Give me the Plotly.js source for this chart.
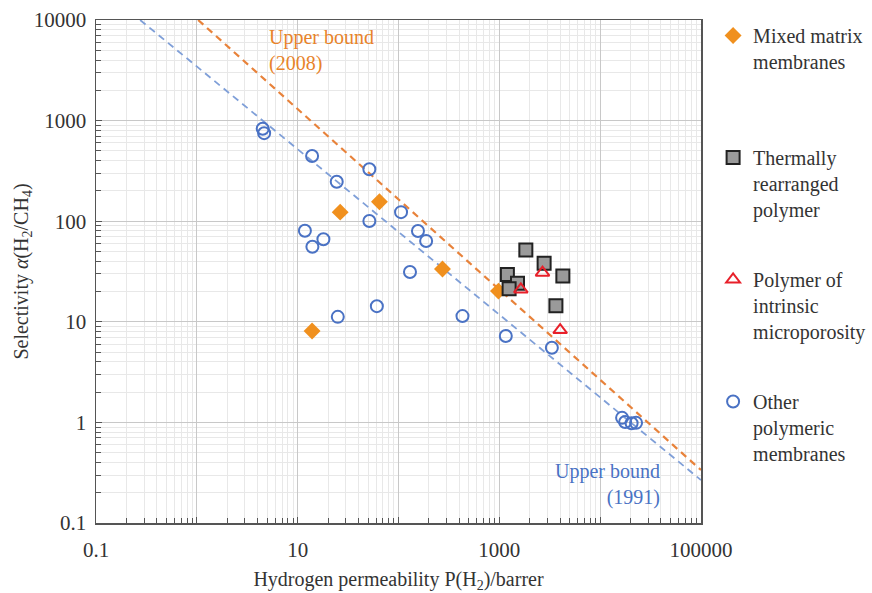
<!DOCTYPE html>
<html>
<head>
<meta charset="utf-8">
<script src="https://cdn.plot.ly/plotly-3.0.1.min.js"></script>
<style>html,body{margin:0;padding:0;background:#fff;}</style>
</head>
<body>
<div id="chart" style="width:872px;height:593px;"></div>
<script>
// Data
const mmmX = [26.4, 64.7, 273, 980, 13.9];
const mmmY = [123, 156, 33.5, 20.2, 8.1];

const trX = [1832, 2781, 1202, 4266, 1514, 1250, 3640];
const trY = [51.8, 38.1, 29.6, 28.5, 24.2, 21.3, 14.4];

const pimX = [2680, 1634, 4010];
const pimY = [30.8, 21.0, 8.28];

const otherX = [4.5, 4.65, 13.9, 24.4, 51.4, 106, 51.4, 11.8, 14.0, 18.0, 156, 188, 130, 25, 61, 431, 1159, 3319, 16500, 17700, 20500, 22700];
const otherY = [830, 750, 445, 247, 328, 123, 100.5, 80.5, 55.8, 66.1, 80, 63.5, 31.3, 11.2, 14.3, 11.4, 7.23, 5.53, 1.11, 1.01, 0.98, 0.99];

const bound1991X = [0.274, 100000];
const bound1991Y = [10000, 0.267];
const bound2008X = [1.03, 100000];
const bound2008Y = [10000, 0.336];

const xTickVals = [0.1, 1, 10, 100, 1000, 10000, 100000];
const xTickText = ['0.1', ' ', '10', ' ', '1000', ' ', '100000'];
const yTickVals = [0.1, 1, 10, 100, 1000, 10000];
const yTickText = ['0.1', '1', '10', '100', '1000', '10000'];

const FONT = "'Liberation Serif', serif";

const traces = [
  {x: bound1991X, y: bound1991Y, mode: 'lines', showlegend: false, hoverinfo: 'skip',
   line: {color: '#7f9fd8', width: 1.8, dash: '7px,5px'}},
  {x: bound2008X, y: bound2008Y, mode: 'lines', showlegend: false, hoverinfo: 'skip',
   line: {color: '#e8823a', width: 2.2, dash: '7px,5px'}},
  {x: otherX, y: otherY, mode: 'markers', name: 'Other<br>polymeric<br>membranes',
   legendrank: 4, legendgroup: 'd',
   marker: {symbol: 'circle-open', size: 12, color: '#4a72c4', line: {width: 2, color: '#4a72c4'}}},
  {x: mmmX, y: mmmY, mode: 'markers', name: 'Mixed matrix<br>membranes<br>.',
   legendrank: 1, legendgroup: 'a',
   marker: {symbol: 'diamond', size: 13, color: '#f0901e'}},
  {x: trX, y: trY, mode: 'markers', name: 'Thermally<br>rearranged<br>polymer',
   legendrank: 2, legendgroup: 'b',
   marker: {symbol: 'square', size: 13, color: '#9a9a9a', line: {width: 2, color: '#222'}}},
  {x: pimX, y: pimY, mode: 'markers', name: 'Polymer of<br>intrinsic<br>microporosity',
   legendrank: 3, legendgroup: 'c',
   marker: {symbol: 'triangle-up-open', size: 12, color: '#e8202a', line: {width: 2, color: '#e8202a'}}}
];

const layout = {
  width: 872, height: 593,
  margin: {l: 96, r: 171, t: 20, b: 70, autoexpand: false},
  paper_bgcolor: '#fff', plot_bgcolor: '#fff',
  font: {family: FONT, size: 20, color: '#333'},
  xaxis: {
    type: 'log', range: [-1, 5], tickmode: 'array', tickvals: xTickVals, ticktext: xTickText,
    showline: true, linecolor: '#555', linewidth: 1.5, mirror: true,
    ticks: 'inside', ticklen: 6, tickcolor: '#555',
    showgrid: true, gridcolor: '#c8c8c8', gridwidth: 1,
    minor: {dtick: 'D1', showgrid: true, gridcolor: '#e8e8e8', ticks: 'inside', ticklen: 5, tickcolor: '#555'},
    tickfont: {family: FONT, size: 21, color: '#333'},
    ticklabelstandoff: 7, automargin: false,
    zeroline: false,
    title: {text: 'Hydrogen permeability P(H<sub>2</sub>)/barrer', font: {family: FONT, size: 20, color: '#333'}, standoff: 20}
  },
  yaxis: {
    type: 'log', range: [-1, 4], tickmode: 'array', tickvals: yTickVals, ticktext: yTickText,
    showline: true, linecolor: '#555', linewidth: 1.5, mirror: true,
    ticks: 'inside', ticklen: 6, tickcolor: '#555',
    showgrid: true, gridcolor: '#c8c8c8', gridwidth: 1,
    minor: {dtick: 'D1', showgrid: true, gridcolor: '#e8e8e8', ticks: 'inside', ticklen: 5, tickcolor: '#555'},
    tickfont: {family: FONT, size: 21, color: '#333'},
    ticklabelstandoff: 4, automargin: false,
    zeroline: false,
    title: {text: 'Selectivity <i>α</i>(H<sub>2</sub>/CH<sub>4</sub>)', font: {family: FONT, size: 20, color: '#333'}, standoff: 0}
  },
  legend: {
    x: 1.02, xanchor: 'left', y: 1.008, yanchor: 'top',
    bgcolor: 'rgba(0,0,0,0)', borderwidth: 0,
    font: {family: FONT, size: 20, color: '#333'},
    valign: 'top', tracegroupgap: 41, itemwidth: 30, maxheight: 1
  },
  annotations: [
    {xref: 'paper', yref: 'paper', x: 0.283, y: 0.992, xanchor: 'left', yanchor: 'top', align: 'left',
     showarrow: false, text: 'Upper bound<br>(2008)', font: {family: FONT, size: 20, color: '#e8832a'}},
    {xref: 'paper', yref: 'paper', x: 0.936, y: 0.024, xanchor: 'right', yanchor: 'bottom', align: 'right',
     showarrow: false, text: 'Upper bound<br>(1991)', font: {family: FONT, size: 20, color: '#4a72c4'}}
  ],
  showlegend: true
};

Plotly.newPlot('chart', traces, layout, {displayModeBar: false, staticPlot: true}).then(function(){
  // hide the padding line used only to equalise legend item heights
  document.querySelectorAll('.legendtext tspan.line').forEach(function(t){
    if (t.textContent === '.') t.setAttribute('fill-opacity', '0');
  });
});
</script>
</body>
</html>
